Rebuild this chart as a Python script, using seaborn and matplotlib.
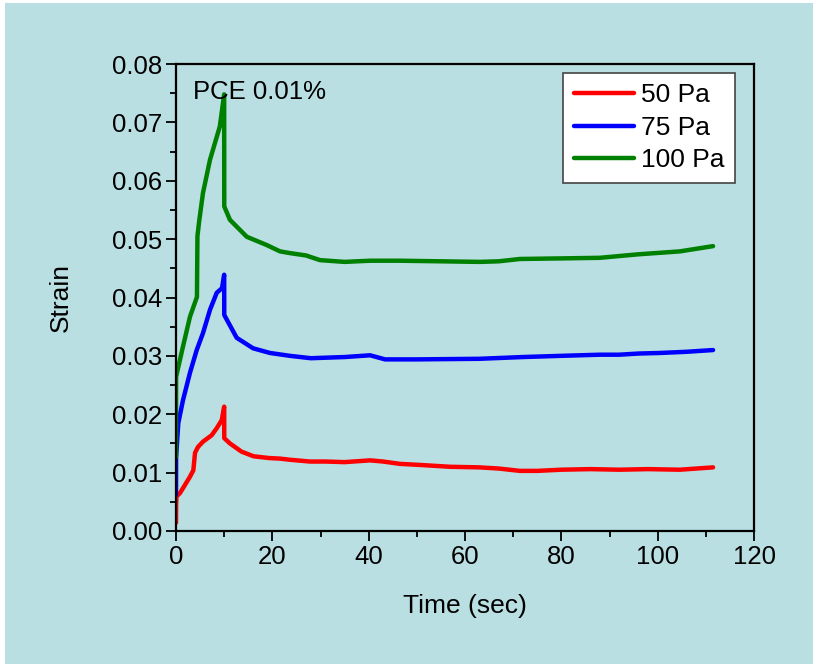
import matplotlib
matplotlib.use("Agg")
import matplotlib.pyplot as plt
import matplotlib.patches as mpatches
from matplotlib.ticker import MultipleLocator
import seaborn as sns

# Creep strain curves for PCE 0.01% at three stress levels
t_50 = [0, 0.02, 0.1, 0.83, 1.87, 2.9, 3.6, 3.95, 4.57, 5.6, 7.4, 8.45, 9.5, 10.0, 10.02,
        11.2, 13.6, 16.1, 19.3, 21.6, 23.7, 27.8, 31, 35, 40.3, 43, 46.5, 51, 56.9, 63,
        67, 71.4, 75, 80, 86, 92, 98, 104.6, 111.5]
s_50 = [0.0014, 0.0045, 0.0059, 0.0065, 0.0079, 0.0093, 0.0104, 0.0134, 0.0144, 0.0153,
        0.0164, 0.0176, 0.0190, 0.0213, 0.0159, 0.0150, 0.0136, 0.0128, 0.0125, 0.0124,
        0.0122, 0.0119, 0.0119, 0.0118, 0.0121, 0.0119, 0.0115, 0.0113, 0.0110, 0.0109,
        0.0107, 0.0103, 0.0103, 0.0105, 0.0106, 0.0105, 0.0106, 0.0105, 0.0109]

t_75 = [0, 0.02, 0.48, 1.45, 2.9, 4.3, 5.6, 7.06, 8.45, 9.55, 10.0, 10.02, 12.6, 16, 19.5,
        23.7, 28, 35, 40.3, 43.4, 50, 63, 72, 79.7, 88, 92, 96, 100.5, 106, 111.5]
s_75 = [0.0062, 0.0127, 0.0185, 0.0224, 0.0271, 0.0310, 0.0339, 0.0379, 0.0408, 0.0416,
        0.0439, 0.0370, 0.0331, 0.0313, 0.0305, 0.0300, 0.0296, 0.0298, 0.0301, 0.0294,
        0.0294, 0.0295, 0.0298, 0.0300, 0.0302, 0.0302, 0.0304, 0.0305, 0.0307, 0.0310]

t_100 = [0, 0.02, 0.48, 1.45, 2.9, 4.35, 4.45, 4.8, 5.6, 7.06, 9.1, 10.0, 10.02, 11.2, 14.7,
         18.8, 21.6, 23.7, 27, 29.9, 35, 40.3, 46.5, 55, 63, 67, 71.4, 80, 88, 96, 104.6,
         111.5]
s_100 = [0.0127, 0.0264, 0.0281, 0.0316, 0.0367, 0.0401, 0.0505, 0.0530, 0.0579, 0.0636,
         0.0693, 0.0748, 0.0556, 0.0533, 0.0504, 0.0490, 0.0479, 0.0476, 0.0472, 0.0464,
         0.0461, 0.0463, 0.0463, 0.0462, 0.0461, 0.0462, 0.0466, 0.0467, 0.0468, 0.0474,
         0.0479, 0.0488]

series_labels = ["50 Pa", "75 Pa", "100 Pa"]
series_colors = ["#ff0000", "#0000ff", "#008000"]

x_ticks = [0, 20, 40, 60, 80, 100, 120]
y_ticks = [0.00, 0.01, 0.02, 0.03, 0.04, 0.05, 0.06, 0.07, 0.08]

bg = "#badfe2"

sns.set_theme(style="ticks")
plt.rcParams["font.family"] = ["Liberation Sans", "DejaVu Sans"]
plt.rcParams["text.color"] = "black"
plt.rcParams["axes.labelcolor"] = "black"
plt.rcParams["xtick.color"] = "black"
plt.rcParams["ytick.color"] = "black"

fig = plt.figure(figsize=(8.13, 6.64), dpi=100)
fig.patch.set_facecolor("white")
fig.patches.append(mpatches.Rectangle((5 / 813, 0), 1 - 5 / 813, 1 - 3 / 664,
                                      transform=fig.transFigure, facecolor=bg,
                                      edgecolor="none", zorder=-10))

ax = fig.add_axes([176 / 813, 1 - 531 / 664, 578 / 813, 467 / 664])
ax.set_facecolor(bg)

for t, s, lab, col in zip([t_50, t_75, t_100], [s_50, s_75, s_100], series_labels, series_colors):
    sns.lineplot(x=t, y=s, ax=ax, color=col, label=lab, sort=False, estimator=None,
                 linewidth=3.2, solid_joinstyle="round")

ax.set_xlim(0, 120)
ax.set_ylim(0, 0.08)
ax.set_xticks(x_ticks)
ax.set_yticks(y_ticks)
ax.set_xticklabels([str(v) for v in x_ticks])
ax.set_yticklabels([f"{v:.2f}" for v in y_ticks])
ax.xaxis.set_minor_locator(MultipleLocator(10))
ax.yaxis.set_minor_locator(MultipleLocator(0.005))
ax.tick_params(axis="both", which="major", direction="out", length=7, width=1.3,
               labelsize=18.5, colors="black", pad=3)
ax.tick_params(axis="both", which="minor", direction="out", length=4, width=1.3)
ax.tick_params(top=False, right=False, which="both")

for sp in ax.spines.values():
    sp.set_visible(True)
    sp.set_linewidth(1.6)
    sp.set_color("black")

ax.set_xlabel("Time (sec)", fontsize=19, labelpad=18, color="black")
ax.set_ylabel("Strain", fontsize=19, labelpad=28, color="black")

ax.text(0.029, 0.94, "PCE 0.01%", transform=ax.transAxes, fontsize=18.5,
        ha="left", va="center", color="black")

leg = ax.legend(loc="upper right", bbox_to_anchor=(0.967, 0.981), borderaxespad=0,
                fontsize=19, frameon=True, fancybox=False, handlelength=2.3,
                handletextpad=0.25, labelspacing=0.32, borderpad=0.4)
leg.get_frame().set_facecolor("white")
leg.get_frame().set_edgecolor("#444444")
leg.get_frame().set_linewidth(1.2)
leg.get_frame().set_alpha(1)
for line in leg.get_lines():
    line.set_linewidth(3.2)
for txt in leg.get_texts():
    txt.set_color("black")

fig.savefig("out.png", dpi=100, facecolor=fig.get_facecolor())
